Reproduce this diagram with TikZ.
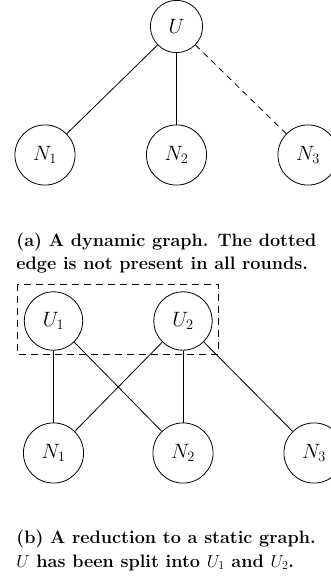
\documentclass[tikz,border=0pt]{standalone}
\usetikzlibrary{calc}

\begin{document}
\begin{tikzpicture}[x=1pt,y=-1pt,line width=0.8pt,
    vertex/.style={draw,circle,inner sep=11pt,font=\fontsize{22}{26}\selectfont},
    capline/.style={anchor=base west,inner sep=0pt,font=\fontsize{18}{23}\selectfont\bfseries},
    dynedge/.style={dash pattern=on 6pt off 5pt}]
    \useasboundingbox (0,0) rectangle (331,577);

    % (a) Grafo dinamico
    \node[vertex] (u) at (176.5,26.5) {$U$};
    \foreach \i/\x in {1/45,2/176.5,3/308}
    {
        \node[vertex] (n\i) at (\x,155) {$N_\i$};
    }
    \draw (u) -- (n1);
    \draw (u) -- (n2);
    \draw[dynedge] (u) -- (n3);

    \node[capline] (capa1) at (16,246) {(a) A dynamic graph. The dotted};
    \node[capline] (capa2) at (16,269) {edge is not present in all rounds.};

    % (b) Reduccion a grafo estatico
    \node[vertex] (u1) at (53.5,321) {$U_1$};
    \node[vertex] (u2) at (183,321) {$U_2$};
    \foreach \i/\x in {1/53.5,2/183,3/314}
    {
        \node[vertex] (m\i) at (\x,453) {$N_\i$};
    }
    \draw (u1) -- (m1);
    \draw (u1) -- (m2);
    \draw (u2) -- (m1);
    \draw (u2) -- (m2);
    \draw (u2) -- (m3);

    % Caja de la division
    \draw[dash pattern=on 7pt off 5pt] (17,284) rectangle (218,354);

    \node[capline] (capb1) at (16,543) {(b) A reduction to a static graph.};
    \node[capline] (capb2) at (16,567) {$U$ has been split into $U_1$ and $U_2$.};

\end{tikzpicture}
\end{document}
